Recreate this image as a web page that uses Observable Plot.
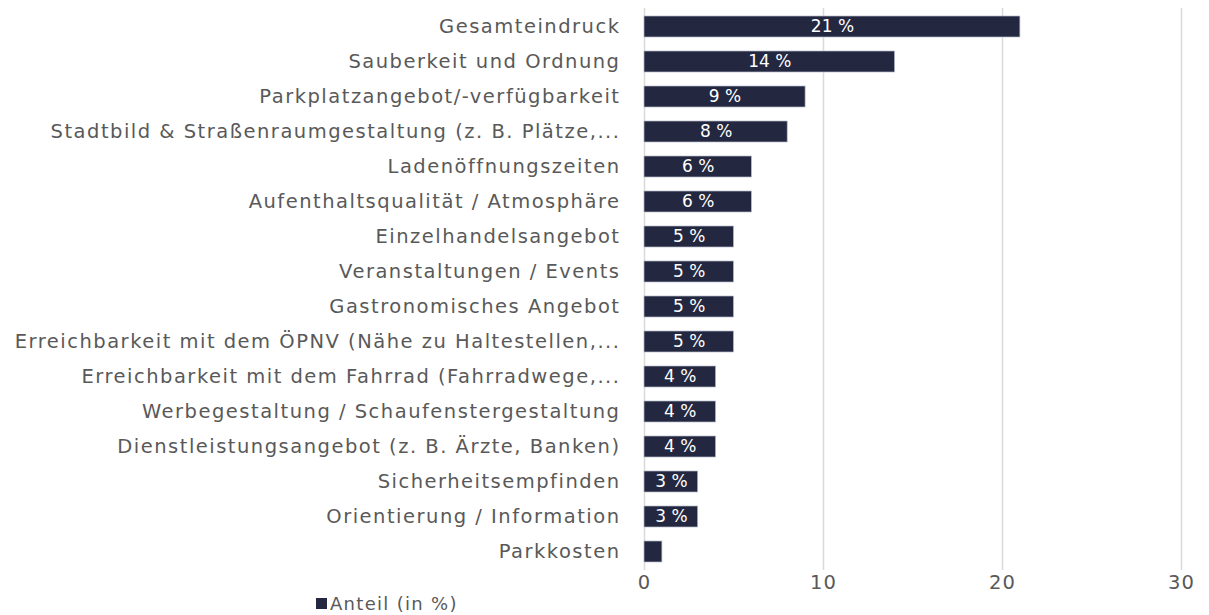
<!DOCTYPE html>
<html><head><meta charset="utf-8">
<script src="https://cdn.jsdelivr.net/npm/d3@7"></script>
<script src="https://cdn.jsdelivr.net/npm/@observablehq/plot@0.6"></script>
<style>
body{margin:0;background:#fff;font-family:"DejaVu Sans",sans-serif;}
#chart svg g[aria-label="y-axis tick label"] text{letter-spacing:1.5px;}
#chart svg g[aria-label="x-axis tick label"] text{letter-spacing:1px;}
#legend{position:absolute;left:316px;top:593px;font-size:18px;letter-spacing:1.3px;color:#595959;display:flex;align-items:center;}
#legend span.sw{display:inline-block;width:11px;height:11px;background:#23273f;margin-right:3px;}
</style></head>
<body>
<div id="chart"></div>
<div id="legend"><span class="sw"></span>Anteil (in %)</div>
<script>
const categories = [
 "Gesamteindruck",
 "Sauberkeit und Ordnung",
 "Parkplatzangebot/-verfügbarkeit",
 "Stadtbild & Straßenraumgestaltung (z. B. Plätze,...",
 "Ladenöffnungszeiten",
 "Aufenthaltsqualität / Atmosphäre",
 "Einzelhandelsangebot",
 "Veranstaltungen / Events",
 "Gastronomisches Angebot",
 "Erreichbarkeit mit dem ÖPNV (Nähe zu Haltestellen,...",
 "Erreichbarkeit mit dem Fahrrad (Fahrradwege,...",
 "Werbegestaltung / Schaufenstergestaltung",
 "Dienstleistungsangebot (z. B. Ärzte, Banken)",
 "Sicherheitsempfinden",
 "Orientierung / Information",
 "Parkkosten"
];
const values = [21,14,9,8,6,6,5,5,5,5,4,4,4,3,3,1];
const labels = ["21 %","14 %","9 %","8 %","6 %","6 %","5 %","5 %","5 %","5 %","4 %","4 %","4 %","3 %","3 %",""];
const xTicks = [0,10,20,30];

const data = categories.map((c,i)=>({cat:c, value:values[i], label:labels[i]}));

const chart = Plot.plot({
  width: 1209,
  height: 600,
  marginLeft: 644,
  marginRight: 28,
  marginTop: 8,
  marginBottom: 30,
  style: {fontFamily: '"DejaVu Sans", sans-serif', fontSize: "19.5px", color: "#595959", background: "#fff", overflow: "visible"},
  x: {domain: [0,30], ticks: xTicks, label: null, tickSize: 0, tickPadding: 5, grid: false},
  y: {domain: categories, label: null, tickSize: 0, tickPadding: 24, paddingInner: 0.41, paddingOuter: 0.05},
  marks: [
    Plot.ruleX(xTicks, {stroke: "#d9d9d9", strokeWidth: 1.5}),
    Plot.barX(data, {x: "value", y: "cat", fill: "#23273f", stroke: "#b9bccb", strokeWidth: 0.7}),
    Plot.text(data, {x: d => d.value/2, y: "cat", text: "label", fill: "#fff", fontSize: 17})
  ]
});
document.getElementById("chart").appendChild(chart);
</script>
</body></html>
